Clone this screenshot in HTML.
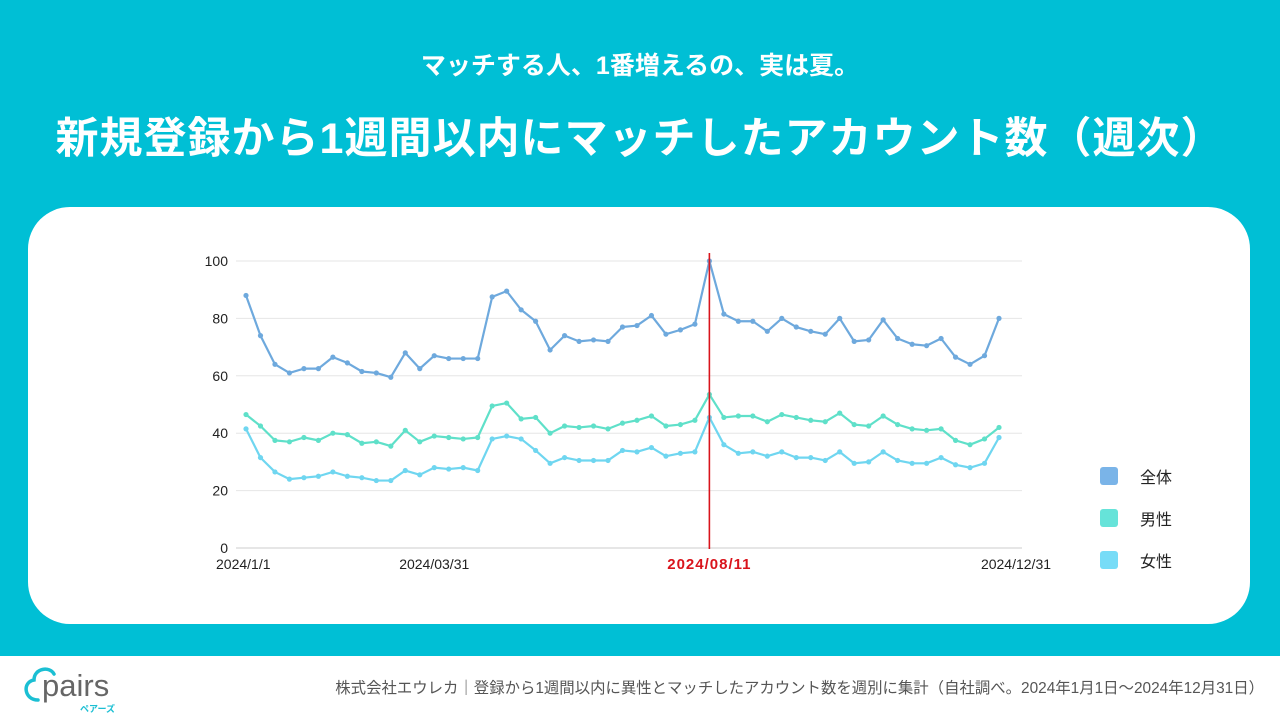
<!DOCTYPE html>
<html><head><meta charset="utf-8">
<style>
html,body{margin:0;padding:0;width:1280px;height:719px;overflow:hidden;background:#fff;font-family:"Liberation Sans","Noto Sans CJK JP",sans-serif;position:relative;}
#top{position:absolute;left:0;top:0;width:1280px;height:656px;background:#00bfd5;}
.sub{position:absolute;top:46px;width:1280px;text-align:center;color:#fff;font-size:25px;font-weight:bold;}
.title{position:absolute;top:104px;width:1280px;text-align:center;color:#fff;font-size:43px;font-weight:bold;letter-spacing:1px;}
#card{position:absolute;left:28px;top:207px;width:1222px;height:417px;background:#fff;border-radius:42px;}
#chart{position:absolute;left:0;top:0;}
.foot{position:absolute;left:0;top:656px;width:1280px;height:63px;background:#fff;overflow:hidden;}
.note{position:absolute;right:16px;top:20px;font-size:15.4px;color:#555;white-space:nowrap;}
</style></head><body>
<div id="top">
<div class="sub">マッチする人、1番増えるの、実は夏。</div>
<div class="title">新規登録から1週間以内にマッチしたアカウント数（週次）</div>
<div id="card"></div>
</div>
<svg id="chart" width="1280" height="656"></svg>
<div class="foot">
<svg width="130" height="63" style="position:absolute;left:18px;top:0">
<path d="M20 44 C6 44 4 26 16 24 C16 12 32 10 36 18" fill="none" stroke="#1bbfd3" stroke-width="3.5" stroke-linecap="round"/>
<text x="24" y="40" font-size="31" fill="#666" font-family="Liberation Sans, sans-serif">pairs</text>
<text x="62" y="56" font-size="9" fill="#1bbfd3" font-family="Noto Sans CJK JP, sans-serif" font-weight="bold">ペアーズ</text>
</svg>
<div class="note">株式会社エウレカ｜登録から1週間以内に異性とマッチしたアカウント数を週別に集計（自社調べ。2024年1月1日〜2024年12月31日）</div>
</div>
<script>
const total=[88,74,64,61,62.5,62.5,66.5,64.5,61.5,61,59.5,68,62.5,67,66,66,66,87.5,89.5,83,79,69,74,72,72.5,72,77,77.5,81,74.5,76,78,100,81.5,79,79,75.5,80,77,75.5,74.5,80,72,72.5,79.5,73,71,70.5,73,66.5,64,67,80];
const male=[46.5,42.5,37.5,37,38.5,37.5,40,39.5,36.5,37,35.5,41,37,39,38.5,38,38.5,49.5,50.5,45,45.5,40,42.5,42,42.5,41.5,43.5,44.5,46,42.5,43,44.5,53.5,45.5,46,46,44,46.5,45.5,44.5,44,47,43,42.5,46,43,41.5,41,41.5,37.5,36,38,42];
const female=[41.5,31.5,26.5,24,24.5,25,26.5,25,24.5,23.5,23.5,27,25.5,28,27.5,28,27,38,39,38,34,29.5,31.5,30.5,30.5,30.5,34,33.5,35,32,33,33.5,45.5,36,33,33.5,32,33.5,31.5,31.5,30.5,33.5,29.5,30,33.5,30.5,29.5,29.5,31.5,29,28,29.5,38.5];
const yTicks=[0,20,40,60,80,100];
const xLabels=[["2024/1/1",0],["2024/03/31",13],["2024/08/11",32],["2024/12/31",52]];
const markerIndex=32;
const seriesNames=["全体","男性","女性"];
const NS="http://www.w3.org/2000/svg";
const svg=document.getElementById('chart');
const x=i=>246+i*(999-246)/(total.length-1);
const y=v=>548-v*2.87;
function el(t,a){const e=document.createElementNS(NS,t);for(const k in a)e.setAttribute(k,a[k]);svg.appendChild(e);return e;}
yTicks.forEach(t=>{
 const l=el('line',{x1:236,x2:1022,y1:y(t),y2:y(t),stroke:t===0?'#ccc':'#e6e6e6','stroke-width':1});
 
 
 const tx=el('text',{x:228,y:y(t)+5,'text-anchor':'end','font-size':14,fill:'#222'});tx.textContent=t;
 
 
});
xLabels.forEach(([s,i],k)=>{
 const red=i===markerIndex;
 let anchor=k===0?'start':'middle';
 let xx=k===0?216:(k===xLabels.length-1?x(i)+17:x(i));
 const tx=el('text',{x:xx,y:569,'text-anchor':anchor,'font-size':red?15:14,fill:red?'#d9141c':'#222','font-weight':red?'bold':'normal','letter-spacing':red?1:0});tx.textContent=s;
 
 
});
const colors=['#6ea9dd','#5fe0c9','#6fd6f0'];
const legendColors=['#7ab4e8','#66e3d9','#77dcf7'];
[total,male,female].forEach((s,k)=>{
 const p=el('polyline',{points:s.map((v,i)=>x(i)+','+y(v)).join(' '),fill:'none',stroke:colors[k],'stroke-width':2.2,'stroke-linejoin':'round'});
 
 
 s.forEach((v,i)=>{const c=el('circle',{cx:x(i),cy:y(v),r:2.6,fill:colors[k]});
  
  });
 const r=el('rect',{x:1100,y:467+k*42,width:18,height:18,rx:3,fill:legendColors[k]});
 
 
 const t=el('text',{x:1140,y:483+k*42,'font-size':16,fill:'#222'});t.textContent=seriesNames[k];
 
 
});
const m=el('line',{x1:x(markerIndex),x2:x(markerIndex),y1:253,y2:549,stroke:'#d9141c','stroke-width':1.6});


</script>
</body></html>
